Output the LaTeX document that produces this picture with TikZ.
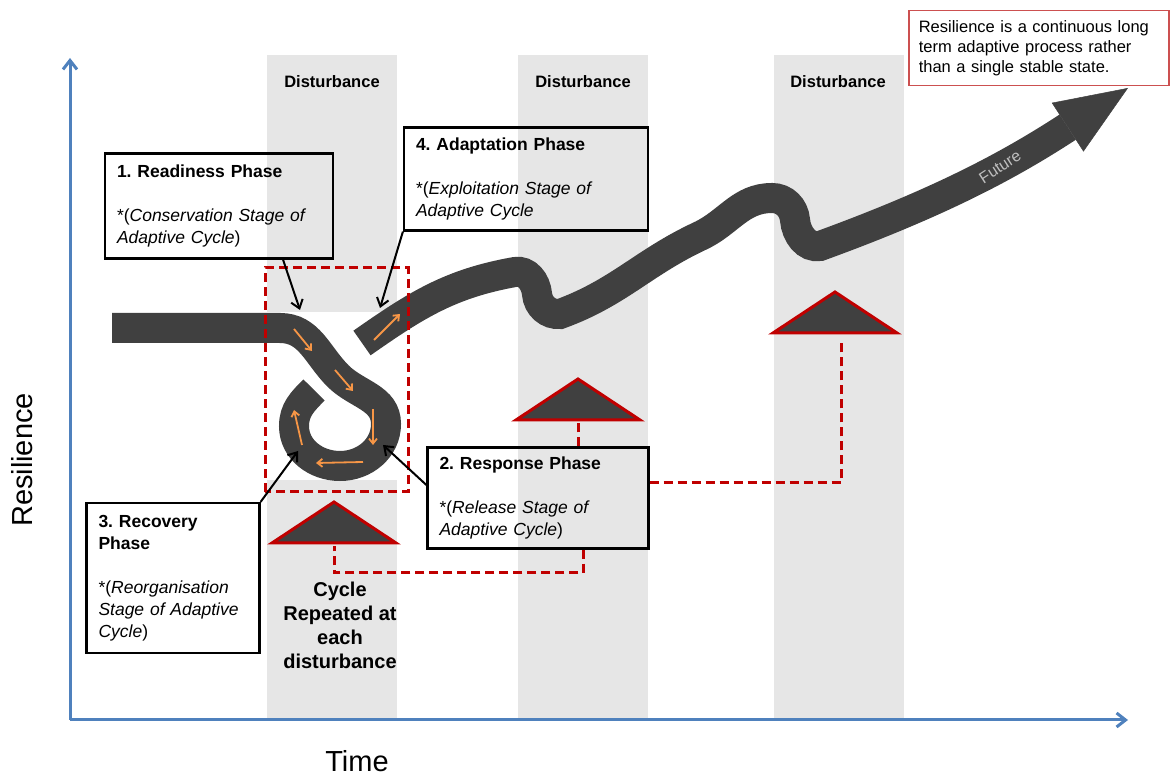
\documentclass[tikz,border=0pt]{standalone}
\usepackage{fontspec}
\setmainfont{Liberation Sans}
\usetikzlibrary{arrows.meta}
\definecolor{axisblue}{RGB}{79,129,189}
\definecolor{bandgrey}{RGB}{230,230,230}
\definecolor{roadgrey}{RGB}{64,64,64}
\definecolor{dashred}{RGB}{192,0,0}
\definecolor{flowor}{RGB}{247,150,70}
\definecolor{notered}{RGB}{204,80,80}
\frenchspacing
\begin{document}
\begin{tikzpicture}[x=1pt,y=1pt,
    phase/.style={draw=black,line width=2.2pt,align=left,inner xsep=12pt,
      font=\fontsize{17.5}{22}\selectfont},
    road/.style={draw=roadgrey,line width=30pt},
    callout/.style={-{Straight Barb[length=8pt,width=12pt]},line width=2pt},
    flow/.style={-{Straight Barb[length=5pt,width=8pt]},draw=flowor,line width=1.8pt},
    warn/.style={fill=roadgrey,draw=dashred,line width=3pt},
    reddash/.style={draw=dashred,line width=3pt,dash pattern=on 9pt off 5pt},
    axis/.style={draw=axisblue,line width=3pt,-{Straight Barb[length=9pt,width=14pt]}}]
    \useasboundingbox (0,0) rectangle (1170,776);

    \foreach \x in {267,518,774}
      \fill[bandgrey] (\x,58) rectangle +(130,663);
    \fill[white] (267,296) rectangle (398,464);

    \foreach \x/\n in {332/d1,583/d2,838/d3}
      \node[font=\bfseries\fontsize{16.5}{18}\selectfont] (\n) at (\x,694) {Disturbance};

    \coordinate (o) at (70,56);
    \draw[axis] (o) -- (70,718);
    \draw[axis] (o) -- (1128,56);
    \node[rotate=90,font=\fontsize{29}{32}\selectfont] (ylab) at (22,316) {Resilience};
    \node[font=\fontsize{29}{32}\selectfont,inner sep=0pt] (xlab) at (357,15) {Time};

    \draw[road] (112,448) -- (280,448) to[out=0,in=135] (338,400)
      to[out=-45,in=90] (386,352) to[out=-90,in=0] (340,310)
      to[out=180,in=-90] (294,350) to[out=90,in=-135] (314,386);
    \draw[road,-{Triangle[length=72pt,width=58pt,line width=0.5pt]}] (362,433)
      to[out=35,in=190] (515,504) to[out=10,in=95] (537,482)
      to[out=-85,in=185] (560,462) to[out=20,in=205] (700,540)
      to[out=25,in=180] (772,578) to[out=0,in=95] (795,556)
      to[out=-85,in=190] (820,530) to[out=20,in=213] (1128,688);
    \node[rotate=33,text=gray!50,font=\fontsize{16}{18}\selectfont] (fut) at (1000,609) {Future};

    \draw[reddash] (265,284) rectangle (408,508);
    \foreach \ax/\ay/\bx/\by in {294/447/312/425,335/406/353/385,373/367/373/331,
                                 363/314/316/313,302/331/294/366,374/436/400/462}
      \draw[flow] (\ax,\ay) -- (\bx,\by);

    \node[phase,minimum width=228pt,minimum height=105pt,text width=204pt] (b1) at (219,570)
      {\textbf{1. Readiness Phase}\\[22pt]*(\textit{Conservation Stage of}\\\textit{Adaptive Cycle})};
    \node[phase,minimum width=244pt,minimum height=103pt,text width=220pt] (b4) at (526,597)
      {\textbf{4. Adaptation Phase}\\[22pt]*(\textit{Exploitation Stage of}\\\textit{Adaptive Cycle}};
    \node[phase,minimum width=221pt,minimum height=101pt,text width=197pt] (b2) at (538,278)
      {\textbf{2. Response Phase}\\[22pt]*(\textit{Release Stage of}\\\textit{Adaptive Cycle})};
    \node[phase,minimum width=173pt,minimum height=150pt,text width=149pt] (b3) at (173,198)
      {\textbf{3. Recovery}\\\textbf{Phase}\\[22pt]*(\textit{Reorganisation}\\\textit{Stage of Adaptive}\\\textit{Cycle})};

    \coordinate (s1) at (300,466);
    \coordinate (s2) at (383,331);
    \coordinate (s3) at (298,325);
    \coordinate (s4) at (380,468);
    \draw[callout] ([xshift=64pt]b1.south) -- (s1);
    \draw[callout] (b4.south west) -- (s4);
    \draw[callout] ([yshift=13pt]b2.west) -- (s2);
    \draw[callout] (b3.north east) -- (s3);

    \foreach \x/\y/\n in {334/233/t1,578/356/t2,835/443/t3} {
      \filldraw[warn] (\x-62,\y) -- (\x,\y+41) -- (\x+62,\y) -- cycle;
      \coordinate (\n) at (\x,\y);
    }
    \draw[reddash] ([xshift=40pt]b2.north) -- (t2);
    \draw[reddash] ([yshift=15pt]b2.east) -| ([xshift=6pt,yshift=-7pt]t3);
    \draw[reddash] ([xshift=45pt]b2.south) |- ([yshift=-30pt]t1) -- ([yshift=-3pt]t1);

    \node[font=\bfseries\fontsize{20}{24}\selectfont,align=center] (rep) at (340,151)
      {Cycle\\Repeated at\\each\\disturbance};

    \node[draw=notered,line width=1.5pt,fill=white,anchor=north west,minimum width=260pt,
      minimum height=75pt,text width=240pt,inner xsep=10pt,align=left,
      font=\fontsize{16.5}{20}\selectfont] (note) at (908,766)
      {Resilience is a continuous long\\term adaptive process rather\\than a single stable state.};
\end{tikzpicture}
\end{document}
